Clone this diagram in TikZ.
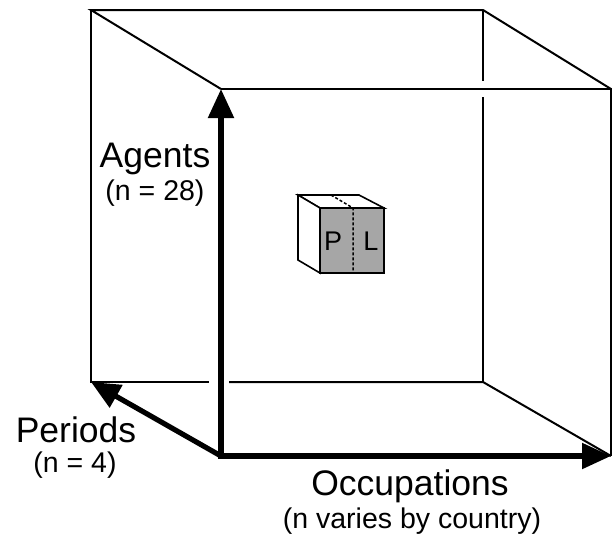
\documentclass[tikz,border=0pt]{standalone}
\usepackage{fontspec}
\setmainfont{Liberation Sans}
\usetikzlibrary{arrows.meta}

\begin{document}
\begin{tikzpicture}[x=1pt,y=-1pt,
  edge/.style={line width=2pt,line join=miter},
  axis/.style={line width=5.2pt,-{Triangle[length=29pt,width=25pt]}},
  lbl/.style={font=\fontsize{35.5}{40}\selectfont,anchor=base,inner sep=0pt},
  sublbl/.style={font=\fontsize{28.5}{32}\selectfont,anchor=base,inner sep=0pt}]
\useasboundingbox (0,0) rectangle (612,536);
% back face
\coordinate (bTL) at (91,10);
\coordinate (bTR) at (483,10);
\coordinate (bBL) at (91,382);
\coordinate (bBR) at (483,382);
% front face
\coordinate (fTL) at (221,89);
\coordinate (fTR) at (611,89);
\coordinate (fBL) at (221,456);
\coordinate (fBR) at (611,456);
% hidden edges, broken where front edges pass
\draw[edge] (fTL) -- (bTL) -- (bTR) -- (fTR);
\draw[edge] (bTL) -- (bBL) -- (209,382);
\draw[edge] (229,382) -- (bBR) -- (fBR);
\draw[edge] (bTR) -- (483,81);
\draw[edge] (483,97) -- (bBR);
% front edges
\draw[edge] (fTL) -- (fTR) -- (fBR);
% axes
\draw[axis,line cap=rect] (fBL) -- (fTL);
\draw[axis,line cap=rect] (fBL) -- (fBR);
\draw[axis] (fBL) -- (bBL);
% small cube
\coordinate (sTL) at (298,195);
\coordinate (sTR) at (359,195);
\coordinate (sBL) at (298,260);
\draw[line width=1.6pt,fill=white,line join=miter] (sTL) -- (sTR) -- (384,208) -- (320,208) -- cycle;
\draw[line width=1.6pt,fill=white,line join=miter] (sTL) -- (320,208) -- (320,273) -- (sBL) -- cycle;
\draw[line width=1.6pt,fill=black!35] (320,208) rectangle (384,273);
\draw[line width=1.5pt,dash pattern=on 3pt off 2pt] (331,195) -- (353,208) -- (353,273);
\node[font=\fontsize{27}{30}\selectfont,anchor=base,inner sep=0pt] (p) at (333,250) {P};
\node[font=\fontsize{27}{30}\selectfont,anchor=base,inner sep=0pt] (l) at (371,250) {L};
% axis labels
\node[lbl] (agents) at (155,167) {Agents};
\node[sublbl] (agentsn) at (155,200) {(n = 28)};
\node[lbl] (periods) at (76,442) {Periods};
\node[sublbl] (periodsn) at (75,472) {(n = 4)};
\node[lbl] (occ) at (410,495) {Occupations};
\node[sublbl] (occn) at (412,528) {(n varies by country)};
\end{tikzpicture}
\end{document}
